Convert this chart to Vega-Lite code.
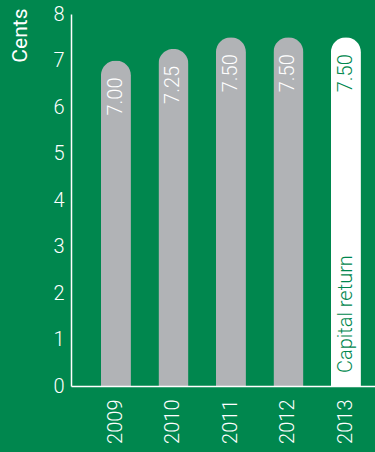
{
  "$schema": "https://vega.github.io/schema/vega-lite/v6.json",
  "width": 304,
  "height": 372,
  "autosize": {"type": "none"},
  "padding": {"left": 71, "top": 14, "right": 0, "bottom": 66},
  "background": "#00874e",
  "config": {"view": {"stroke": null}, "font": "Roboto"},
  "data": {
    "values": [
      {"year": "2009", "value": 7.00, "label": "7.00", "type": "Dividend"},
      {"year": "2010", "value": 7.25, "label": "7.25", "type": "Dividend"},
      {"year": "2011", "value": 7.50, "label": "7.50", "type": "Dividend"},
      {"year": "2012", "value": 7.50, "label": "7.50", "type": "Dividend"},
      {"year": "2013", "value": 7.50, "label": "7.50", "type": "Capital return"}
    ]
  },
  "encoding": {
    "x": {
      "field": "year",
      "type": "nominal",
      "scale": {"paddingInner": 0.478, "paddingOuter": 0.3826, "align": 0.68},
      "axis": {
        "title": null,
        "ticks": false,
        "domainColor": "#ffffff",
        "domainWidth": 1.5,
        "labelColor": "#ffffff",
        "labelFontSize": 20,
        "labelFontWeight": 300,
        "labelAngle": 270,
        "labelAlign": "right",
        "labelBaseline": "middle",
        "labelPadding": 13,
        "zindex": 1
      }
    }
  },
  "layer": [
    {
      "mark": {"type": "bar", "cornerRadiusTopLeft": 15, "cornerRadiusTopRight": 15},
      "encoding": {
        "y": {
          "field": "value",
          "type": "quantitative",
          "scale": {"domain": [0, 8]},
          "axis": {
            "title": "Cents",
            "values": [0, 1, 2, 3, 4, 5, 6, 7, 8],
            "grid": false,
            "ticks": false,
            "domainColor": "#ffffff",
            "domainWidth": 1.5,
            "labelColor": "#ffffff",
            "labelFontSize": 20,
            "labelFontWeight": 300,
            "labelPadding": 7,
            "titleColor": "#ffffff",
            "titleFontSize": 21,
            "titleFontWeight": 400,
            "titleAngle": 270,
            "titleAlign": "right",
            "titleBaseline": "middle",
            "titleX": -50.5,
            "titleY": -6,
            "zindex": 1
          }
        },
        "color": {
          "field": "type",
          "type": "nominal",
          "scale": {"domain": ["Dividend", "Capital return"], "range": ["#b1b3b6", "#ffffff"]},
          "legend": null
        }
      }
    },
    {
      "mark": {"type": "text", "angle": 270, "align": "right", "baseline": "middle", "yOffset": 17, "fontSize": 20, "fontWeight": 300},
      "encoding": {
        "y": {"field": "value", "type": "quantitative"},
        "text": {"field": "label"},
        "color": {"condition": {"test": "datum.type == 'Capital return'", "value": "#00874e"}, "value": "#ffffff"}
      }
    },
    {
      "transform": [{"filter": "datum.type == 'Capital return'"}],
      "mark": {"type": "text", "angle": 270, "align": "left", "baseline": "middle", "yOffset": -13, "fontSize": 20, "fontWeight": 300, "color": "#00874e"},
      "encoding": {
        "y": {"datum": 0, "type": "quantitative"},
        "text": {"field": "type"}
      }
    }
  ]
}
